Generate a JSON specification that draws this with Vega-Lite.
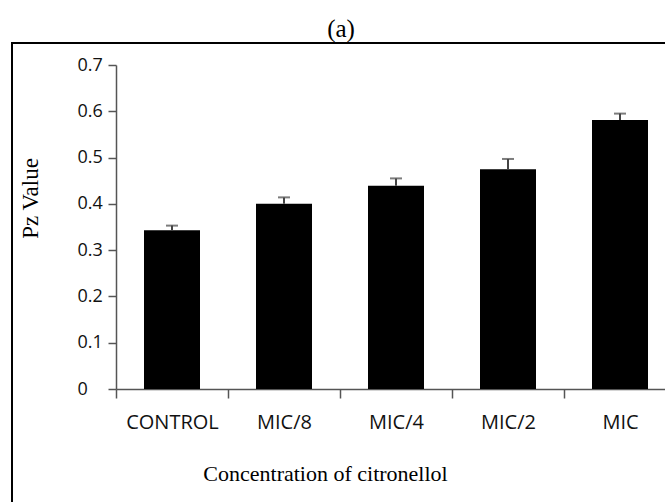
{
  "$schema": "https://vega.github.io/schema/vega-lite/v6.json",
  "autosize": {"type": "none"},
  "padding": {"left": 12, "top": 43, "right": -10, "bottom": -10},
  "width": 663,
  "height": 469,
  "background": "white",
  "title": {"text": "(a)", "frame": "group", "anchor": "start", "align": "center", "dx": 329, "dy": 25, "offset": 6, "baseline": "alphabetic", "font": "Liberation Serif", "fontSize": 25, "fontWeight": "normal", "color": "black"},
  "config": {"view": {"stroke": "black", "strokeWidth": 2}},
  "data": {"values": [
    {"conc": "CONTROL", "value": 0.343, "upper": 0.353},
    {"conc": "MIC/8", "value": 0.400, "upper": 0.414},
    {"conc": "MIC/4", "value": 0.439, "upper": 0.455},
    {"conc": "MIC/2", "value": 0.4745, "upper": 0.497},
    {"conc": "MIC", "value": 0.581, "upper": 0.595}
  ]},
  "encoding": {
    "x": {"field": "conc", "type": "nominal", "sort": ["CONTROL", "MIC/8", "MIC/4", "MIC/2", "MIC"],
      "scale": {"domain": ["CONTROL", "MIC/8", "MIC/4", "MIC/2", "MIC"], "range": [104, 664], "paddingInner": 0, "paddingOuter": 0},
      "axis": {"orient": "bottom", "offset": -123, "tickBand": "extent", "domainColor": "#555", "domainWidth": 1.5, "tickColor": "#555", "tickWidth": 1.5, "tickSize": 9, "labelAngle": 0, "labelPadding": 14, "labelFont": "Open Sans", "labelFontSize": 20, "labelColor": "#111", "title": "Concentration of citronellol", "titleFont": "Liberation Serif", "titleFontSize": 22, "titleFontWeight": "normal", "titleColor": "black", "titleX": 313, "titleY": 91, "titleAlign": "center", "titleBaseline": "alphabetic"}},
    "y": {"field": "value", "type": "quantitative",
      "scale": {"domain": [0, 0.7], "range": [346, 22], "nice": false},
      "axis": {"values": [0, 0.1, 0.2, 0.3, 0.4, 0.5, 0.6, 0.7], "labelExpr": "datum.value == 0 ? '0' : format(datum.value, '.1f')", "offset": -104, "grid": false, "domainColor": "#555", "domainWidth": 1.5, "tickColor": "#555", "tickWidth": 1.5, "tickSize": 8, "labelAlign": "left", "labelPadding": 31, "labelFont": "Open Sans", "labelFontSize": 18, "labelColor": "#111", "title": "Pz Value", "titleFont": "Liberation Serif", "titleFontSize": 23, "titleFontWeight": "normal", "titleColor": "black", "titleAngle": 270, "titleX": -79, "titleY": 155, "titleAlign": "center", "titleBaseline": "alphabetic"}}
  },
  "layer": [
    {"mark": {"type": "bar", "color": "black", "width": {"band": 0.5}}},
    {"mark": {"type": "rule", "color": "#444", "strokeWidth": 2}, "encoding": {"y2": {"field": "upper"}}},
    {"mark": {"type": "tick", "color": "#444", "thickness": 2, "size": 12}, "encoding": {"y": {"field": "upper", "type": "quantitative", "scale": {"domain": [0, 0.7], "range": [346, 22], "nice": false}, "title": "Pz Value"}}}
  ]
}
